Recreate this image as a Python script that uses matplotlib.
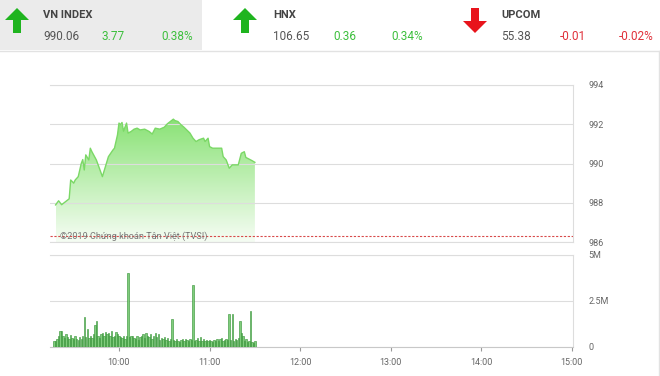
import matplotlib
matplotlib.use("Agg")
import matplotlib.pyplot as plt
from matplotlib.patches import Rectangle, FancyArrow
from matplotlib.colors import LinearSegmentedColormap
import numpy as np

# header quotes
names = ["VN INDEX", "HNX", "UPCOM"]
last = ["990.06", "106.65", "55.38"]
change = ["3.77", "0.36", "-0.01"]
pct = ["0.38%", "0.34%", "-0.02%"]

# VN-Index intraday, morning session
price_time = ["9:18", "9:20", "9:22", "9:26", "9:27", "9:28", "9:30", "9:31", "9:33", "9:35",
              "9:36", "9:37", "9:38", "9:40", "9:41", "9:42", "9:45", "9:47", "9:49", "9:51",
              "9:53", "9:56", "9:57", "9:59", "10:00", "10:01", "10:02", "10:03", "10:05", "10:06",
              "10:08", "10:10", "10:12", "10:14", "10:17", "10:20", "10:22", "10:24", "10:27", "10:30",
              "10:32", "10:34", "10:36", "10:37", "10:39", "10:41", "10:43", "10:47", "10:49", "10:51",
              "10:53", "10:56", "10:57", "10:59", "11:00", "11:02", "11:08", "11:09", "11:11", "11:13",
              "11:15", "11:19", "11:21", "11:23", "11:24", "11:28", "11:30"]
price = [987.89, 988.10, 987.90, 988.14, 988.20, 989.16, 989.00, 989.16, 989.33, 990.00,
         990.20, 989.67, 990.44, 990.18, 990.78, 990.61, 990.18, 989.76, 989.33, 989.84,
         990.35, 990.69, 990.78, 991.46, 992.06, 991.98, 992.09, 991.65, 992.06, 991.55,
         991.63, 991.75, 991.80, 991.71, 991.75, 991.63, 991.50, 991.80, 991.75, 991.85,
         992.02, 992.14, 992.26, 992.19, 992.14, 991.98, 991.85, 991.55, 991.29, 991.12,
         991.21, 991.29, 991.12, 991.29, 990.86, 990.78, 990.78, 990.35, 990.18, 989.76,
         989.93, 989.93, 990.52, 990.60, 990.31, 990.15, 990.06]
prev_close = 986.29

# volume per minute from 9:17, in millions
vol_start = "9:17"
volume = [0.35, 0.30, 0.42, 0.58, 0.88, 0.85, 0.60, 0.48, 0.72, 0.55,
          0.45, 0.66, 0.50, 0.42, 0.58, 0.46, 0.40, 0.55, 0.44, 0.62,
          1.64, 0.55, 1.00, 0.50, 0.60, 0.48, 0.70, 1.17, 1.44, 0.62,
          0.50, 0.68, 0.75, 0.58, 0.82, 0.70, 0.78, 0.60, 0.85, 0.55,
          0.62, 0.80, 0.72, 0.60, 0.55, 0.50, 0.62, 0.45, 0.58, 4.00,
          0.55, 0.62, 0.58, 0.50, 0.45, 0.62, 0.40, 0.55, 0.60, 0.72,
          0.50, 0.78, 0.62, 0.55, 0.70, 0.45, 0.60, 0.78, 0.55, 0.72,
          0.40, 0.50, 0.42, 0.55, 0.38, 0.48, 0.35, 0.45, 1.53, 0.40,
          0.30, 0.45, 0.35, 0.25, 0.38, 0.42, 0.30, 0.45, 0.40, 0.35,
          0.42, 0.38, 3.37, 0.32, 0.40, 0.48, 0.35, 0.55, 0.30, 0.45,
          0.35, 0.40, 0.30, 0.38, 0.32, 0.28, 0.40, 0.35, 0.45, 0.30,
          0.42, 0.48, 0.35, 0.40, 0.45, 0.38, 1.82, 0.40, 1.79, 0.35,
          0.42, 0.38, 0.50, 1.44, 0.77, 0.60, 0.30, 0.45, 0.25, 0.30,
          1.95, 0.25, 0.20, 0.35]

time_ticks = ["10:00", "11:00", "12:00", "13:00", "14:00", "15:00"]
price_ticks = [986, 988, 990, 992, 994]
vol_ticks = [0, 2.5, 5]
vol_tick_labels = ["0", "2.5M", "5M"]


def minutes(s):
    h, m = s.split(":")
    return (int(h) - 9) * 60 + int(m)


W, H = 660, 376
fig = plt.figure(figsize=(W / 100, H / 100), dpi=100)
fig.patch.set_facecolor("white")

head_font = ["Roboto", "DejaVu Sans"]
tick_font = ["Roboto", "DejaVu Sans"]

# ---- header, drawn in pixel coordinates
hd = fig.add_axes([0, 0, 1, 1], zorder=0)
hd.set_xlim(0, W)
hd.set_ylim(H, 0)
hd.axis("off")
hd.add_patch(Rectangle((0, 0), 202, 50, color="#ebebeb", lw=0))
hd.plot([0, 659], [50.5, 50.5], color="#e2e2e2", lw=1)
hd.plot([658.5, 658.5], [50.5, H], color="#e2e2e2", lw=1)

up_col, down_col = "#1fb41f", "#e8141c"
arrow_x = [17, 245, 475]
name_x = [43, 273, 501]
chg_x = [101, 333, 560]
pct_x = [161, 391, 619]
for i in range(3):
    up = not change[i].startswith("-")
    col = up_col if up else down_col
    if up:
        hd.add_patch(FancyArrow(arrow_x[i], 33, 0, -13, width=8, head_width=24,
                                head_length=12, color=col, lw=0))
    else:
        hd.add_patch(FancyArrow(arrow_x[i], 8, 0, 13, width=8, head_width=24,
                                head_length=12, color=col, lw=0))
    num_col = "#3cbf3c" if up else "#e0303a"
    hd.text(name_x[i], 15, names[i], family=head_font, fontsize=8, weight="bold",
            color="#444444", va="center", ha="left")
    hd.text(name_x[i], 37, last[i], family=head_font, fontsize=8.5,
            color="#555555", va="center", ha="left")
    hd.text(chg_x[i], 37, change[i], family=head_font, fontsize=8.5,
            color=num_col, va="center", ha="left")
    hd.text(pct_x[i], 37, pct[i], family=head_font, fontsize=8.5,
            color=num_col, va="center", ha="left")

# ---- chart panels
left, right = 50 / W, 573 / W
ax = fig.add_axes([left, 1 - 242 / H, right - left, 157 / H], zorder=2)
axv = fig.add_axes([left, 1 - 347 / H, right - left, 92 / H], zorder=2, sharex=ax)
for a in (ax, axv):
    a.set_facecolor("none")

xmin, xmax = 14.3, 360.7
t = np.array([minutes(s) for s in price_time])
p = np.array(price)

ax.set_xlim(xmin, xmax)
ax.set_ylim(986, 994)

# gradient area under the index line
cmap = LinearSegmentedColormap.from_list("g", ["#f6fdf4", "#8ae276"])
grad = np.linspace(0, 1, 256).reshape(-1, 1)
img = ax.imshow(grad, cmap=cmap, aspect="auto", origin="lower",
                extent=[t[0], t[-1], 986, p.max()], zorder=1)
poly = ax.fill_between(t, p, 986, color="none", lw=0)
img.set_clip_path(poly.get_paths()[0], transform=ax.transData)
ax.plot(t, p, color="#7bd866", lw=1, zorder=3)

ax.axhline(prev_close, color="#d84a4a", lw=0.8, ls=(0, (2, 1.5)), zorder=4)
ax.text(21, prev_close + 0.03, "\u00a92019 Ch\u1ee9ng kho\u00e1n T\u00e2n Vi\u1ec7t (TVSI)",
        family=tick_font, fontsize=6.6, color="#777777", va="center", ha="left", zorder=5)

# volume bars
v0 = minutes(vol_start)
vt = np.arange(len(volume)) + v0
axv.bar(vt, volume, width=0.95, color="#80cc7c", edgecolor="#2f8f2f", lw=0.4, zorder=3)
axv.set_ylim(0, 5)

for a, ticks in ((ax, price_ticks), (axv, vol_ticks)):
    a.set_yticks(ticks)
    a.yaxis.tick_right()
    a.grid(axis="y", color="#dddddd", lw=0.8, zorder=0)
    a.tick_params(axis="y", length=0, pad=11, labelsize=6.5, labelcolor="#666666")
    for lab in a.get_yticklabels():
        lab.set_family(tick_font)
    a.spines["left"].set_visible(False)
    a.spines["top"].set_color("#dddddd")
    a.spines["right"].set_color("#dddddd")
    a.spines["bottom"].set_color("#dddddd")
    for s in a.spines.values():
        s.set_linewidth(0.8)
axv.set_yticklabels(vol_tick_labels)
axv.spines["bottom"].set_color("#c8c8c8")

ax.tick_params(axis="x", bottom=False, labelbottom=False)
axv.set_xticks([minutes(s) for s in time_ticks])
axv.set_xticklabels(time_ticks)
axv.tick_params(axis="x", length=3, color="#999999", pad=5, labelsize=6.5,
                labelcolor="#666666")
for lab in axv.get_xticklabels():
    lab.set_family(tick_font)

fig.savefig("out.png", dpi=100)
